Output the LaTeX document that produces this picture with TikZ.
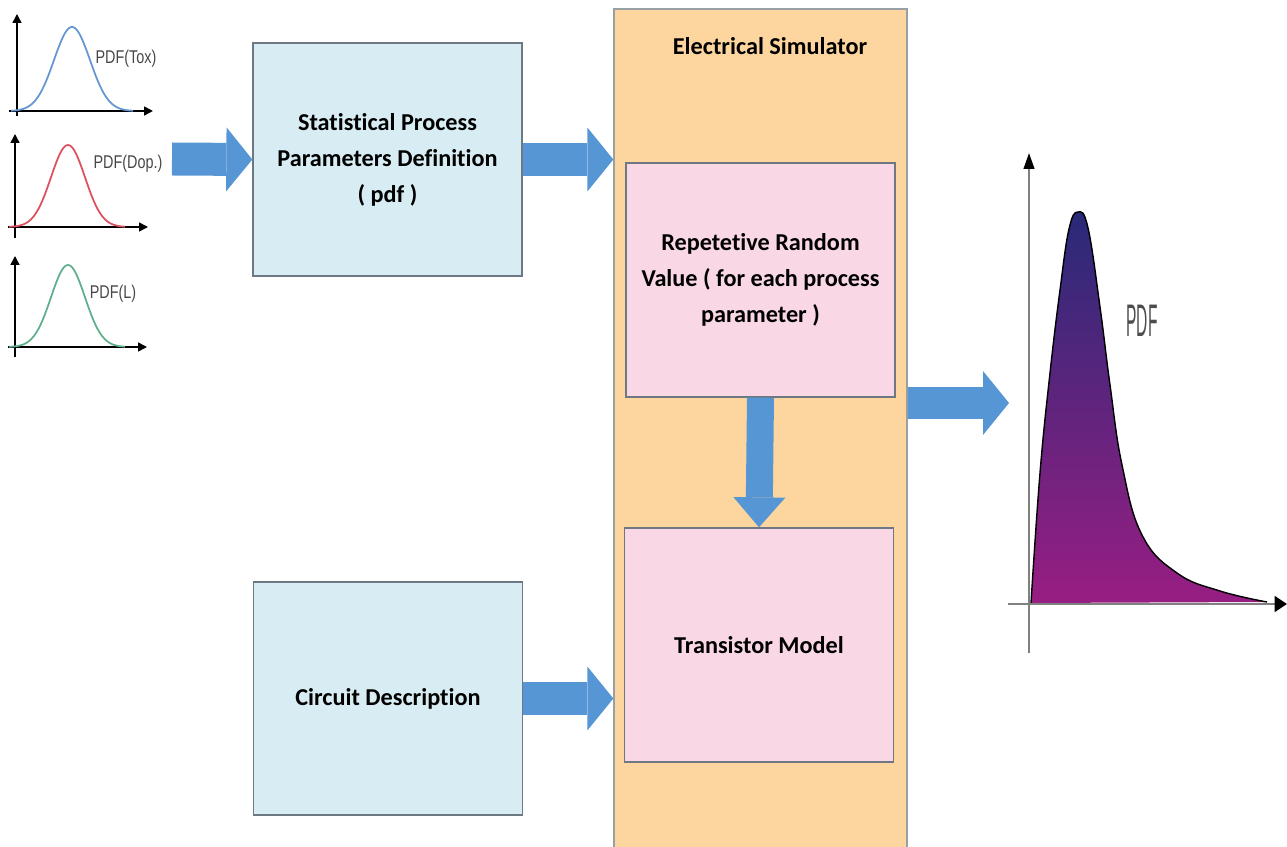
\documentclass[tikz,border=0pt]{standalone}
\usepackage{fontspec}
\setmainfont[Ligatures=NoCommon]{Carlito}
\newfontfamily\plotfont[FakeStretch=0.78]{Liberation Sans}
\newfontfamily\bigpdffont[FakeStretch=0.34]{Liberation Sans}
\usetikzlibrary{arrows.meta}
\definecolor{arrowblue}{RGB}{86,150,212}
\definecolor{paramcyan}{RGB}{216,237,243}
\definecolor{simorange}{RGB}{253,213,158}
\definecolor{modelpink}{RGB}{249,215,229}
\definecolor{boxline}{RGB}{110,120,130}
\definecolor{simline}{RGB}{150,160,165}
\definecolor{toxblue}{RGB}{100,150,210}
\definecolor{dopred}{RGB}{220,80,95}
\definecolor{lgreen}{RGB}{95,175,140}
\definecolor{pdftop}{RGB}{40,42,120}
\definecolor{pdfbot}{RGB}{152,30,130}
\tikzset{
  box/.style={draw=boxline, line width=0.8pt, align=center, inner sep=0pt,
    font=\bfseries\fontsize{13.8}{20.5}\selectfont},
  parambox/.style={box, fill=paramcyan, minimum width=5.38cm, minimum height=4.66cm},
  modelbox/.style={box, fill=modelpink, minimum width=5.38cm, minimum height=4.68cm},
  blockarrow/.style={draw=arrowblue, line width=0.66cm,
    -{Triangle[length=0.52cm, width=1.28cm, line width=0pt]}},
  smallaxis/.style={line width=0.9pt, -{Triangle[length=5pt, width=5pt]}},
  smallcurve/.style={line width=1pt},
  smalllabel/.style={text=black!72, font=\plotfont\fontsize{10.5}{12}\selectfont},
}
\begin{document}
\begin{tikzpicture}[x=0.02cm, y=-0.02cm]
  \useasboundingbox (0,0) rectangle (1287,847);
  % input distributions
  \draw[smallaxis] (17,116) -- (17,14);
  \draw[smallaxis] (9,111) -- (153,111);
  \draw[smallcurve, toxblue] plot[domain=11:133, samples=60]
    (\x, {111-84*exp(-(\x-72)*(\x-72)/648)});
  \node[smalllabel] (tox) at (126,59) {PDF(Tox)};
  \draw[smallaxis] (15,238) -- (15,134);
  \draw[smallaxis] (8,227) -- (148,227);
  \draw[smallcurve, dopred] plot[domain=9:125, samples=60]
    (\x, {227-82*exp(-(\x-68)*(\x-68)/578)});
  \node[smalllabel] (dop) at (128,164) {PDF(Dop.)};
  \draw[smallaxis] (15,357) -- (15,256);
  \draw[smallaxis] (8,347) -- (147,347);
  \draw[smallcurve, lgreen] plot[domain=9:125, samples=60]
    (\x, {347-82*exp(-(\x-68)*(\x-68)/578)});
  \node[smalllabel] (len) at (113,294) {PDF(L)};
  % blocks
  \node[parambox] (spp) at (387.5,159.5)
    {Statistical Process\\Parameters Definition\\( pdf )};
  \node[parambox] (circ) at (388,698.5) {Circuit Description};
  \node[box, draw=simline, fill=simorange, minimum width=5.86cm,
    minimum height=16.92cm] (sim) at (760.5,432) {};
  \node[font=\bfseries\fontsize{13.8}{20.5}\selectfont] (simtitle) at (770,46)
    {Electrical Simulator};
  \node[modelbox] (rand) at (760.5,280)
    {Repetetive Random\\Value ( for each process\\parameter )};
  \node[modelbox] (tmod) at (759,645) {Transistor Model};
  % output distribution
  \coordinate (in1) at (172,159);
  \coordinate (out1) at (1009,403);
  \coordinate (ybot) at (1029,653);
  \coordinate (ytop) at (1029,153);
  \coordinate (xleft) at (1008,604);
  \coordinate (xright) at (1287,604);
  \shade[top color=pdftop, bottom color=pdfbot] plot[smooth, tension=0.7] coordinates
    {(1031,603) (1040,473) (1050,373) (1060,290) (1069,229) (1078,212) (1088,228)
     (1100,307) (1110,385) (1122,465) (1142,535) (1177,573)
     (1220,591) (1267,602)} -- cycle;
  \draw[line width=0.8pt] plot[smooth, tension=0.7] coordinates
    {(1031,603) (1040,473) (1050,373) (1060,290) (1069,229) (1078,212) (1088,228)
     (1100,307) (1110,385) (1122,465) (1142,535) (1177,573)
     (1220,591) (1267,602)};
  \draw[gray, line width=1.2pt, -{Triangle[length=9pt, width=6pt, color=black]}]
    (ybot) -- (ytop);
  \draw[gray, line width=1.2pt, -{Triangle[length=7pt, width=9pt, color=black]}]
    (xleft) -- (xright);
  \node[text=black!70, font=\bigpdffont\fontsize{26}{28}\selectfont] (pdf) at (1142,321) {PDF};
  % connectors
  \draw[blockarrow] (in1) -- (spp.west);
  \draw[blockarrow] (spp.east) -- (spp.east -| sim.west);
  \draw[blockarrow, line width=0.54cm,
    -{Triangle[length=0.6cm, width=1.04cm, line width=0pt]}] (rand.south) -- (tmod.north);
  \draw[blockarrow] (circ.east) -- (circ.east -| sim.west);
  \draw[blockarrow] (sim.east |- out1) -- (out1);
\end{tikzpicture}
\end{document}
